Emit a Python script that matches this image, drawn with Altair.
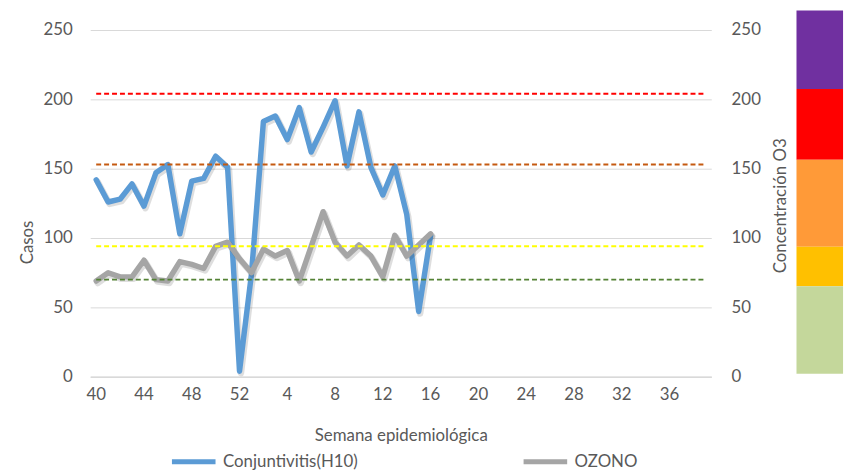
import altair as alt
import pandas as pd

# categories
weeks = [str(w) for w in range(40, 53)] + [str(w) for w in range(1, 40)]
x_labels = ["40", "44", "48", "52", "4", "8", "12", "16", "20", "24", "28", "32", "36"]
weeks_obs = weeks[:29]

# series values
conj = [142, 126, 128, 139, 123, 147, 153, 103, 141, 143, 159, 151, 4,
        74, 184, 188, 171, 194, 162, 180, 199, 152, 191, 151, 131, 152, 117, 47, 102]
ozono = [69, 75, 72, 72, 84, 70, 69, 83, 81, 78, 94, 97, 85,
         75, 92, 87, 91, 69, 94, 119, 97, 87, 95, 87, 72, 102, 87, 95, 103]
series = ["Conjuntivitis(H10)", "OZONO"]
series_colors = ["#5B9BD5", "#A5A5A5"]

# threshold lines
thr_values = [204, 153, 94, 70]
thr_colors = ["#FF0000", "#C55A11", "#FFFF00", "#548235"]

# colour band of ozone concentration
band_lo = [207.4, 156.4, 93.8, 65.2, 2.1]
band_hi = [264, 207.4, 156.4, 93.8, 65.2]
band_colors = ["#7030A0", "#FF0000", "#FF9A38", "#FFC000", "#C4D79B"]

y_ticks = [0, 50, 100, 150, 200, 250]

TXT = "#595959"
FONT = "Lato"
FS = 17

df_c = pd.DataFrame({"semana": weeks_obs, "valor": conj, "serie": series[0]})
df_o = pd.DataFrame({"semana": weeks_obs, "valor": ozono, "serie": series[1]})
df_thr = pd.DataFrame({"semana": weeks[0], "semana2": weeks[-1], "val": thr_values, "col": thr_colors})
df_band = pd.DataFrame({"lo": band_lo, "hi": band_hi, "col": band_colors})

xaxis = alt.Axis(values=x_labels, labelAngle=0, ticks=False, grid=False,
                 domainColor="#D9D9D9", domainWidth=1.5, labelPadding=10,
                 labelFontSize=FS, labelColor=TXT, labelFont=FONT,
                 title="Semana epidemiológica", titleFont=FONT, titleFontSize=FS,
                 titleFontWeight="normal", titleColor=TXT, titleY=59, titleBaseline="middle")
X = alt.X("semana:O", scale=alt.Scale(domain=weeks), axis=xaxis)

yscale = alt.Scale(domain=[0, 250], nice=False)
yaxis_l = alt.Axis(values=y_ticks, ticks=False, domain=False, grid=True, gridColor="#D9D9D9",
                   labelFontSize=FS, labelColor=TXT, labelFont=FONT, labelPadding=18,
                   title="Casos", titleFont=FONT, titleFontSize=FS, titleFontWeight="normal",
                   titleColor=TXT, titleAngle=270, titleX=-63, titleY=214, titleBaseline="middle")
yaxis_r = alt.Axis(orient="right", values=y_ticks, ticks=False, domain=False, grid=False,
                   labelFontSize=FS, labelColor=TXT, labelFont=FONT, labelPadding=20,
                   title="Concentración O3", titleFont=FONT, titleFontSize=FS, titleFontWeight="normal",
                   titleColor=TXT, titleAngle=270, titleX=70, titleY=177, titleBaseline="middle")

color = alt.Color("serie:N", scale=alt.Scale(domain=series, range=series_colors),
                  legend=alt.Legend(orient="none", legendX=80, legendY=411, direction="horizontal",
                                    columns=2, columnPadding=156, symbolType="stroke",
                                    symbolSize=1936, symbolStrokeWidth=5, labelFontSize=FS,
                                    labelFont=FONT, labelColor=TXT, labelOffset=5, title=None,
                                    padding=0))

line_kw = dict(strokeWidth=5.5, strokeJoin="round", strokeCap="round")
shadow_kw = dict(strokeWidth=6.5, strokeJoin="round", strokeCap="round",
                 color="#000000", opacity=0.13, xOffset=1.5, yOffset=2)

band = alt.Chart(df_band).mark_rect().encode(
    x=alt.value(713), x2=alt.value(760),
    y=alt.Y("lo:Q", scale=yscale, axis=yaxis_l), y2="hi:Q",
    fill=alt.Fill("col:N", scale=None))

blue_shadow = alt.Chart(df_c).mark_line(**shadow_kw).encode(
    x=X, y=alt.Y("valor:Q", scale=yscale, axis=yaxis_l))
blue = alt.Chart(df_c).mark_line(**line_kw).encode(
    x=X, y=alt.Y("valor:Q", scale=yscale, axis=yaxis_l), color=color)

gray_shadow = alt.Chart(df_o).mark_line(**shadow_kw).encode(
    x=X, y=alt.Y("valor:Q", scale=yscale, axis=yaxis_r))
gray = alt.Chart(df_o).mark_line(**line_kw).encode(
    x=X, y=alt.Y("valor:Q", scale=yscale, axis=yaxis_r), color=color)

rules = alt.Chart(df_thr).mark_rule(strokeWidth=2, strokeDash=[5, 3]).encode(
    x=X, x2="semana2", y=alt.Y("val:Q", scale=yscale, axis=yaxis_r),
    stroke=alt.Stroke("col:N", scale=None))

left = alt.layer(band, blue_shadow, blue)
right = alt.layer(gray_shadow, gray, rules)

chart = alt.layer(left, right).resolve_scale(y="independent").properties(
    width=627, height=350,
    padding={"left": 11, "top": 0, "right": 5, "bottom": 0}
).configure(font=FONT).configure_view(stroke=None)

chart.save("out.html", embed_options={"renderer": "svg", "actions": False})
